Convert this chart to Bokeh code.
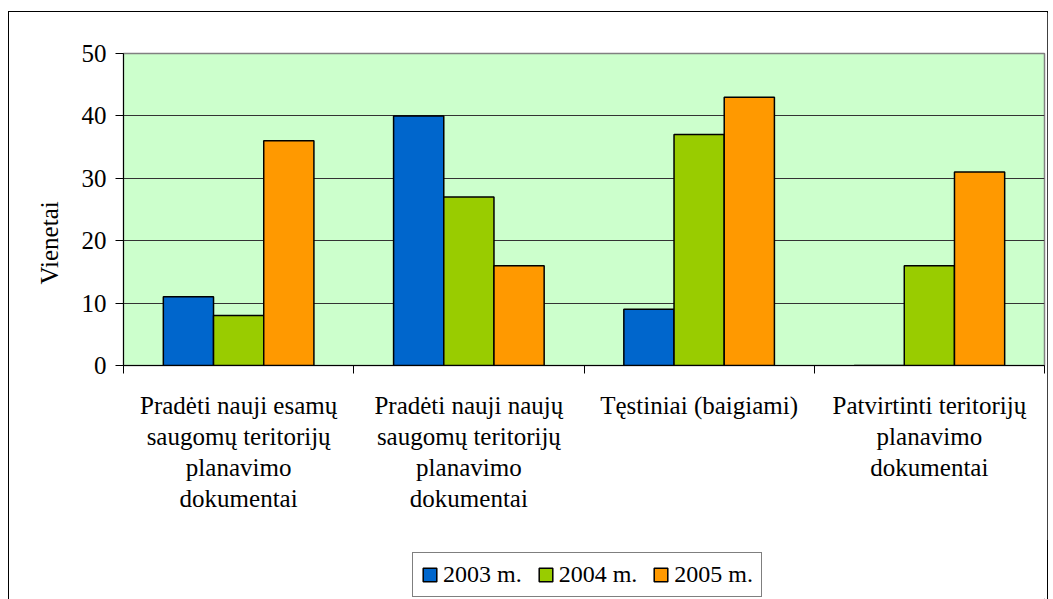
from bokeh.plotting import figure
from bokeh.layouts import column
from bokeh.models import (FixedTicker, Legend, LegendItem, Range1d,
                          ColumnDataSource, Title)
from bokeh.transform import dodge
from bokeh.embed import file_html
from bokeh.resources import INLINE

categories = [
    "Pradėti nauji esamų\nsaugomų teritorijų\nplanavimo\ndokumentai",
    "Pradėti nauji naujų\nsaugomų teritorijų\nplanavimo\ndokumentai",
    "Tęstiniai (baigiami)",
    "Patvirtinti teritorijų\nplanavimo\ndokumentai",
]
series = ["2003 m.", "2004 m.", "2005 m."]
v2003 = [11, 40, 9, 0]
v2004 = [8, 27, 37, 16]
v2005 = [36, 16, 43, 31]
colors = ["#0066CC", "#99CC00", "#FF9900"]
y_ticks = [0, 10, 20, 30, 40, 50]
y_title = "Vienetai"

FONT = "Liberation Serif"
centers = [i + 0.5 for i in range(len(categories))]
src = ColumnDataSource(dict(x=centers, v2003=v2003, v2004=v2004, v2005=v2005))

p = figure(frame_width=923, frame_height=312, output_backend="svg", toolbar_location=None,
           x_range=Range1d(0, len(categories)), y_range=Range1d(0, 50),
           min_border_left=114, min_border_right=3, min_border_top=41,
           min_border_bottom=175)
p.background_fill_color = "#CCFFCC"
p.border_fill_color = "white"
p.outline_line_color = "#808080"
p.outline_line_width = 1.5

bw = 0.218
for i, (col, c) in enumerate(zip(["v2003", "v2004", "v2005"], colors)):
    p.vbar(x=dodge("x", (i - 1) * bw, range=p.x_range), top=col, width=bw,
           source=src, fill_color=c, line_color="black", line_width=1.5)

xt = FixedTicker(ticks=centers, minor_ticks=list(range(len(categories) + 1)))
p.xaxis.ticker = xt
p.xaxis.major_label_overrides = {c: lab for c, lab in zip(centers, categories)}
p.xaxis.major_tick_line_color = None
p.xaxis.minor_tick_line_color = "black"
p.xaxis.minor_tick_out = 8
p.xaxis.minor_tick_in = 0
p.xaxis.axis_line_color = "black"
p.xaxis.major_label_text_font = FONT
p.xaxis.major_label_text_font_size = "25px"
p.xaxis.major_label_text_color = "black"
p.xaxis.major_label_text_line_height = 1.16
p.xaxis.major_label_standoff = 18
p.xaxis.major_label_orientation = "horizontal"

p.yaxis.ticker = FixedTicker(ticks=y_ticks)
p.yaxis.major_tick_out = 8
p.yaxis.major_tick_in = 0
p.yaxis.minor_tick_line_color = None
p.yaxis.axis_line_color = "black"
p.yaxis.major_label_text_font = FONT
p.yaxis.major_label_text_font_size = "25px"
p.yaxis.major_label_text_color = "black"
p.yaxis.major_label_standoff = 9

p.add_layout(Title(text=y_title, align="left", offset=81, text_font=FONT,
                   text_font_size="25px", text_font_style="normal",
                   text_color="black", standoff=32), "left")

p.xgrid.grid_line_color = None
p.ygrid.grid_line_color = "#333333"
p.ygrid.grid_line_width = 1

# separate strip holding the legend under the chart
lf = figure(width=1040, height=59, output_backend="svg", toolbar_location=None,
            x_range=Range1d(0, 1), y_range=Range1d(0, 1),
            min_border_left=0, min_border_right=0, min_border_top=0, min_border_bottom=0)
lf.xaxis.visible = False
lf.yaxis.visible = False
lf.grid.visible = False
lf.outline_line_color = None
lf.border_fill_color = "white"
lf.background_fill_color = "white"
items = []
for s, c in zip(series, colors):
    # legend-only glyph, placed outside the visible range
    r = lf.vbar(x=[5], top=[0], width=0.1, fill_color=c, line_color="black", line_width=1.5)
    items.append(LegendItem(label=s, renderers=[r]))

legend = Legend(items=items, orientation="horizontal", location=(289, 2))
legend.label_text_font = FONT
legend.label_text_font_size = "24px"
legend.label_text_color = "black"
legend.glyph_width = 17
legend.glyph_height = 17
legend.label_standoff = 5
legend.spacing = 15
legend.padding = 8
legend.margin = 0
legend.border_line_color = "black"
legend.border_line_width = 1
legend.background_fill_color = "white"
lf.add_layout(legend, "center")

layout = column(p, lf, spacing=0)
layout.styles = {"border": "1px solid black", "margin-left": "8px", "margin-top": "11px",
                 "width": "1040px"}

open("out.html", "w").write(file_html(layout, INLINE))
